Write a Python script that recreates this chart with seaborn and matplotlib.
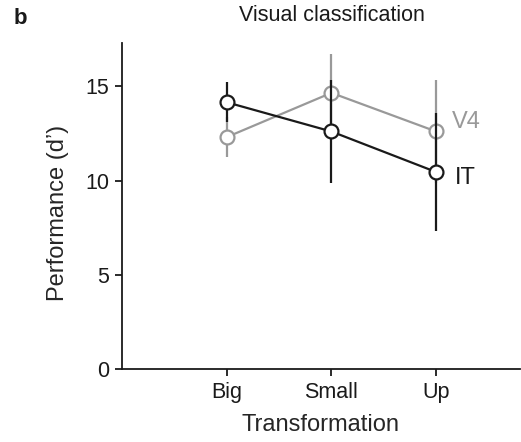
import matplotlib
matplotlib.use("Agg")
import matplotlib.pyplot as plt
import seaborn as sns
import pandas as pd
import numpy as np

categories = ["Big", "Small", "Up"]
areas = ["V4", "IT"]
v4_mean = [12.3, 14.65, 12.6]
v4_err = [1.05, 2.05, 2.75]
it_mean = [14.15, 12.6, 10.45]
it_err = [1.05, 2.75, 3.15]
colors = {"V4": "#999999", "IT": "#1a1a1a"}

sns.set_theme(style="ticks")
plt.rcParams["font.family"] = ["Liberation Sans", "DejaVu Sans"]

fig = plt.figure(figsize=(5.21, 4.42), dpi=100)
ax = fig.add_axes([0.234, 0.165, 0.764, 0.738])

data = {"V4": (v4_mean, v4_err), "IT": (it_mean, it_err)}
for i, area in enumerate(areas):
    m, e = data[area]
    df = pd.DataFrame({"x": np.arange(len(categories)), "y": m})
    c = colors[area]
    ax.errorbar(df["x"], df["y"], yerr=e, fmt="none", ecolor=c, elinewidth=1.6,
                capsize=0, zorder=2 + 2 * i)
    sns.lineplot(data=df, x="x", y="y", ax=ax, color=c, lw=1.6, marker="o",
                 markersize=10, markerfacecolor="white", markeredgecolor=c,
                 markeredgewidth=1.6, zorder=3 + 2 * i)

ax.text(2.15, 13.1, "V4", color=colors["V4"], fontsize=17, va="center")
ax.text(2.18, 10.15, "IT", color=colors["IT"], fontsize=17, va="center")

ax.set_xlim(-1.0, 2.8)
ax.set_ylim(0, 17.3)
ax.set_xticks(range(len(categories)))
ax.set_xticklabels(categories)
ax.set_yticks([0, 5, 10, 15])
ax.set_xlabel("Transformation", fontsize=17, labelpad=8)
ax.set_ylabel("Performance (d\u2019)", fontsize=17)
ax.yaxis.set_label_coords(-0.132, 0.48)
ax.tick_params(axis="both", labelsize=15.5, direction="out", length=5, width=1.3,
               color="#1a1a1a", labelcolor="#1a1a1a", pad=4)
for s in ["top", "right"]:
    ax.spines[s].set_visible(False)
for s in ["left", "bottom"]:
    ax.spines[s].set_linewidth(1.3)
    ax.spines[s].set_color("#1a1a1a")

fig.text(0.637, 0.965, "Visual classification", ha="center", va="center", fontsize=15.5,
         color="#1a1a1a")
fig.text(0.027, 0.958, "b", ha="left", va="center", fontsize=16, fontweight="bold",
         color="#1a1a1a")

fig.savefig("out.png", dpi=100)
